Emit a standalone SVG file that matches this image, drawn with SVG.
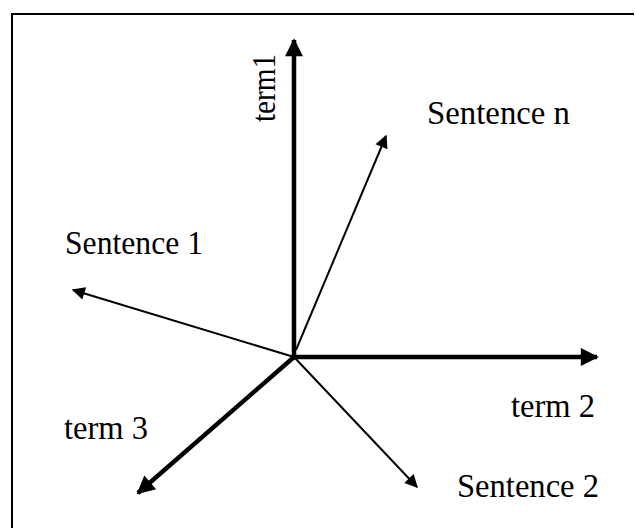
<svg xmlns="http://www.w3.org/2000/svg" width="635" height="528" viewBox="0 0 635 528">
<style>
.lbl{font-family:"Liberation Serif","Times New Roman",serif;font-size:34px;fill:#000}
.axis{stroke:#000;stroke-width:4.5;fill:none}
.vec{stroke:#000;stroke-width:2;fill:none}
</style>
<defs>
<marker id="big" viewBox="0 0 10 10" refX="9" refY="5" markerUnits="userSpaceOnUse" markerWidth="22" markerHeight="18" orient="auto"><path d="M0,0 L10,5 L0,10 Z" fill="#000"/></marker>
<marker id="small" viewBox="0 0 10 10" refX="9" refY="5" markerUnits="userSpaceOnUse" markerWidth="17" markerHeight="13" orient="auto"><path d="M0,0 L10,5 L0,10 Z" fill="#000"/></marker>
</defs>
<rect width="635" height="528" fill="#fff"/>
<g id="frame"><path d="M12,528 V14 H634" stroke="#000" stroke-width="2" fill="none"/></g>
<g id="connectors">
<line class="axis" x1="294" y1="357" x2="294" y2="40" marker-end="url(#big)"/>
<line class="axis" x1="294" y1="357" x2="597" y2="357" marker-end="url(#big)"/>
<line class="axis" x1="294" y1="357" x2="138" y2="493" marker-end="url(#big)"/>
<line class="vec" x1="294" y1="357" x2="73" y2="290" marker-end="url(#small)"/>
<line class="vec" x1="296" y1="350" x2="386" y2="136" marker-end="url(#small)"/>
<line class="vec" x1="294" y1="357" x2="417" y2="487" marker-end="url(#small)"/>
</g>
<g id="term1"><text class="lbl" transform="translate(275,122) rotate(-90)" textLength="68" lengthAdjust="spacingAndGlyphs">term1</text></g>
<g id="term2"><text class="lbl" x="511" y="417" textLength="84" lengthAdjust="spacingAndGlyphs">term 2</text></g>
<g id="term3"><text class="lbl" x="64" y="439" textLength="84" lengthAdjust="spacingAndGlyphs">term 3</text></g>
<g id="sentence1"><text class="lbl" x="65" y="254" textLength="138" lengthAdjust="spacingAndGlyphs">Sentence 1</text></g>
<g id="sentence2"><text class="lbl" x="457" y="497" textLength="142" lengthAdjust="spacingAndGlyphs">Sentence 2</text></g>
<g id="sentencen"><text class="lbl" x="427" y="124" textLength="143" lengthAdjust="spacingAndGlyphs">Sentence n</text></g>
</svg>
